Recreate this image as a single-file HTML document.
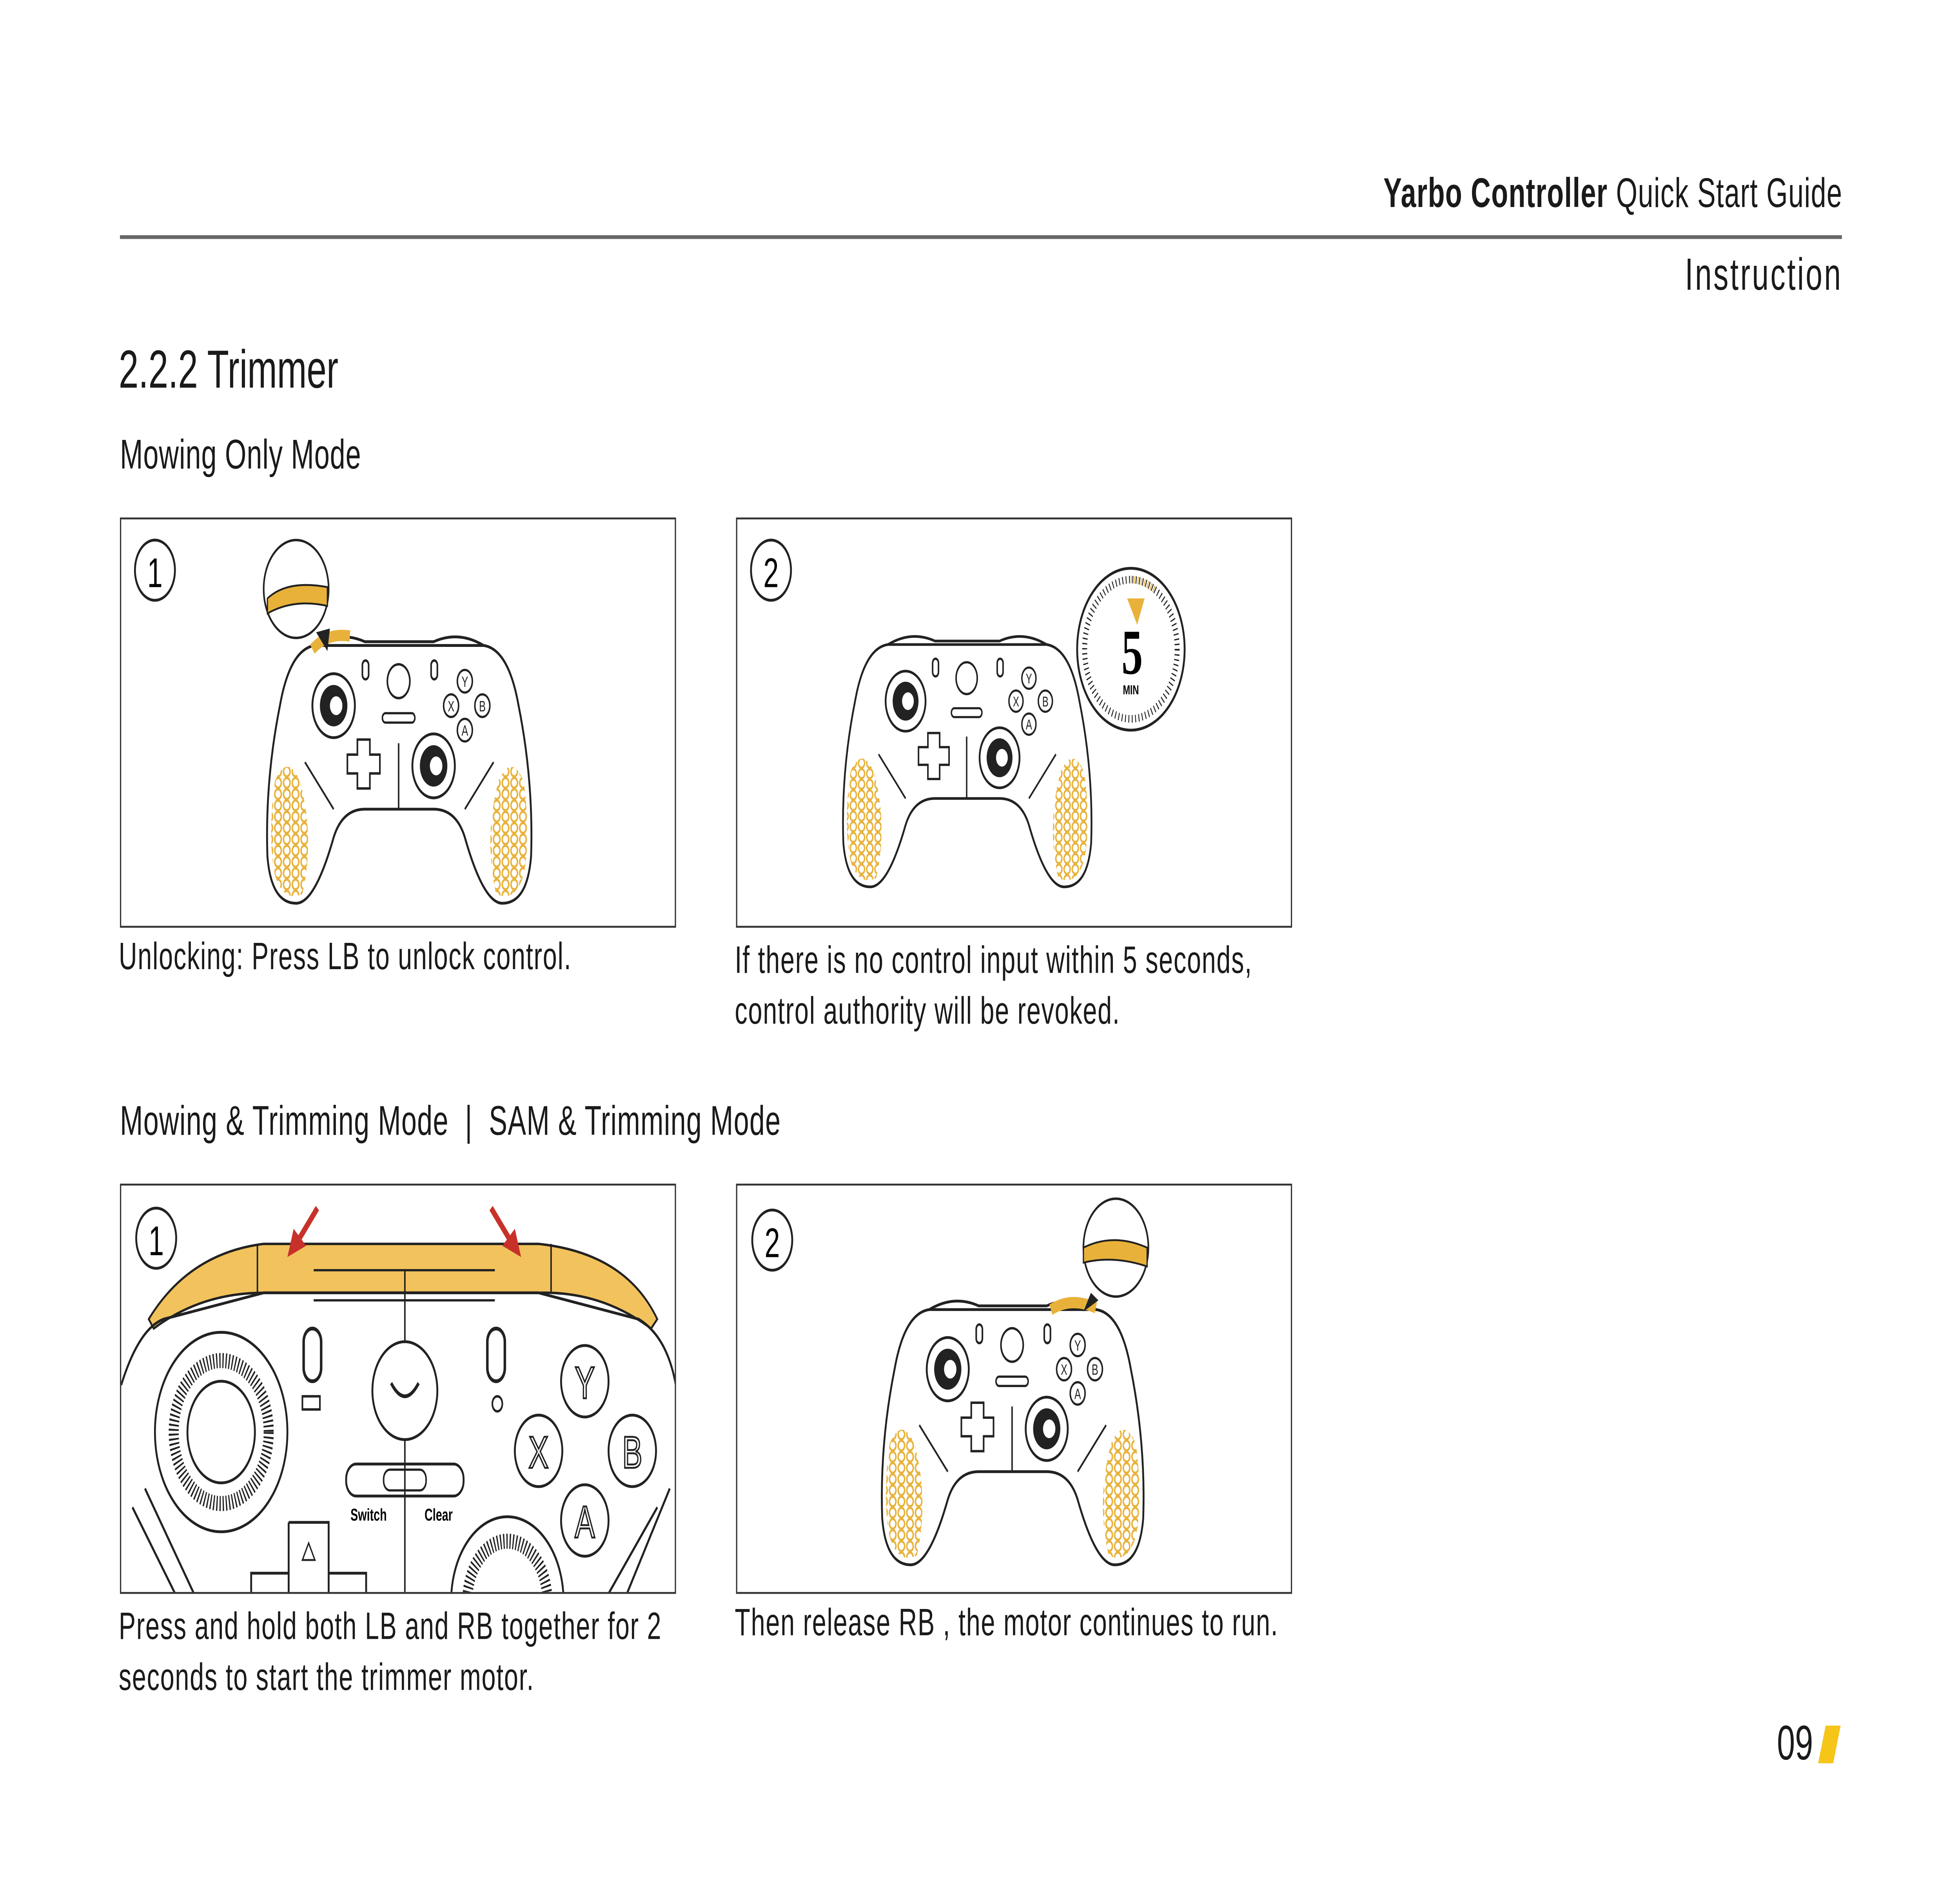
<!DOCTYPE html>
<html><head><meta charset="utf-8"><style>
html,body{margin:0;padding:0;background:#fff;}
body{width:100vw;height:100vh;overflow:hidden;position:relative;}
#s{position:absolute;left:0;top:0;width:1568.5px;height:1001.7px;overflow:hidden;transform:scale(4.8);transform-origin:0 0;font-family:"Liberation Sans",sans-serif;color:#1a1a1a;}
.t{position:absolute;white-space:nowrap;}
.cap{font-size:20.3px;letter-spacing:0.55px;}
.box{position:absolute;border:1.3px solid #333;box-sizing:border-box;background:#fff;overflow:hidden;}
svg{position:absolute;overflow:visible;}
</style></head><body><div id="s">
<div class="t" style="right:94px;top:90px;font-size:22px;letter-spacing:0.45px;"><b>Yarbo Controller</b> Quick Start Guide</div>
<div style="position:absolute;left:96px;top:125px;width:1378px;height:2px;background:#666;"></div>
<div class="t" style="right:94px;top:133px;font-size:24px;letter-spacing:1.4px;">Instruction</div>
<div class="t" style="left:95px;top:181px;font-size:28.5px;letter-spacing:0px;">2.2.2 Trimmer</div>
<div class="t" style="left:96px;top:229px;font-size:22px;letter-spacing:0.3px;">Mowing Only Mode</div>

<svg width="0" height="0" style="position:absolute;left:0;top:0">
<defs>
<pattern id="hc" width="7" height="6" patternUnits="userSpaceOnUse"><rect width="7" height="6" fill="#fff"/><circle cx="3.5" cy="3" r="2.6" fill="none" stroke="#e8b23a" stroke-width="1.2"/></pattern>
<g id="ctl">
<path d="M40,8 Q20,10 12,40 Q0,80 2,120 Q5,145 25,145 Q40,145 55,110 Q62,95 80,95 L135,95 Q153,95 160,110 Q175,145 190,145 Q210,145 213,120 Q215,80 203,40 Q195,10 175,8 Z" fill="#fff" stroke="#222" stroke-width="1.5"/>
<path d="M40,8 Q60,0 80,6 L135,6 Q155,0 175,8" fill="none" stroke="#222" stroke-width="1.5"/>
<path d="M8,80 Q18,65 28,80 Q40,110 30,140 Q15,145 8,130 Q2,110 8,80Z" fill="url(#hc)"/>
<path d="M207,80 Q197,65 187,80 Q175,110 185,140 Q200,145 207,130 Q213,110 207,80Z" fill="url(#hc)"/>
<path d="M32,70 L55,95 M183,70 L160,95 M107,60 L107,95" stroke="#222" stroke-width="1.2"/>
<circle cx="55" cy="40" r="17" fill="#fff" stroke="#222" stroke-width="1.5"/><circle cx="55" cy="40" r="11" fill="#222"/><circle cx="57" cy="40" r="5" fill="#fff"/>
<circle cx="135" cy="72" r="17" fill="#fff" stroke="#222" stroke-width="1.5"/><circle cx="135" cy="72" r="11" fill="#222"/><circle cx="137" cy="72" r="5" fill="#fff"/>
<path d="M74,58 h10 v8 h8 v10 h-8 v8 h-10 v-8 h-8 v-10 h8z" fill="#fff" stroke="#222" stroke-width="1.3"/>
<circle cx="107" cy="27" r="9" fill="#fff" stroke="#222" stroke-width="1.3"/>
<rect x="78" y="16" width="5" height="10" rx="2.5" fill="none" stroke="#222" stroke-width="1.3"/>
<rect x="133" y="16" width="5" height="10" rx="2.5" fill="none" stroke="#222" stroke-width="1.3"/>
<rect x="94" y="44" width="26" height="5" rx="2.5" fill="none" stroke="#222" stroke-width="1.2"/>
<g fill="#fff" stroke="#222" stroke-width="1.2">
<circle cx="160" cy="27" r="6"/><circle cx="149" cy="40" r="6"/><circle cx="174" cy="40" r="6"/><circle cx="160" cy="53" r="6"/></g>
<g font-size="8" font-family="Liberation Sans" text-anchor="middle" fill="#222"><text x="160" y="30">Y</text><text x="149" y="43">X</text><text x="174" y="43">B</text><text x="160" y="56">A</text></g>
</g>
</defs></svg>

<div class="box" style="left:96px;top:275px;width:445px;height:218px;"></div>
<div class="box" style="left:589px;top:275px;width:445px;height:218px;"></div>
<svg style="left:0;top:0" width="1100" height="500">
<circle cx="124" cy="303" r="16" fill="none" stroke="#222" stroke-width="1.5"/><text x="124" y="312" font-size="22" text-anchor="middle" font-family="Liberation Sans">1</text>
<use href="#ctl" x="212" y="335"/>
<path d="M250,345 Q262,336 280,338" stroke="#e8b23a" stroke-width="6" fill="none"/>
<circle cx="237" cy="313" r="26" fill="#fff" stroke="#222" stroke-width="1.3"/>
<path d="M214,318 Q230,308 262,312 L262,322 Q235,318 214,326Z" fill="#e8b23a" stroke="#222" stroke-width="1"/>
<path d="M253,336 L262,346 L264,334Z" fill="#222"/>
<circle cx="617" cy="303" r="16" fill="none" stroke="#222" stroke-width="1.5"/><text x="617" y="312" font-size="22" text-anchor="middle" font-family="Liberation Sans">2</text>
<use href="#ctl" transform="translate(673,335) scale(0.94)"/>
<circle cx="905" cy="345" r="43" fill="#fff" stroke="#222" stroke-width="1.5"/>
<circle cx="905" cy="345" r="37" fill="none" stroke="#222" stroke-width="4" stroke-dasharray="0.7 2"/>
<path d="M905,308 A37,37 0 0 1 925,314" stroke="#e8b23a" stroke-width="4" fill="none" stroke-dasharray="0.7 2"/>
<path d="M902,318 L916,318 L910,332Z" fill="#e8b23a"/>
<text x="906" y="358" font-size="34" font-weight="bold" text-anchor="middle" font-family="Liberation Serif">5</text>
<text x="905" y="369" font-size="7" font-weight="bold" text-anchor="middle" font-family="Liberation Sans">MIN</text>
</svg>

<div class="t cap" style="left:95px;top:498px;">Unlocking: Press LB to unlock control.</div>
<div class="t cap" style="left:588px;top:498px;line-height:27px;">If there is no control input within 5 seconds,<br>control authority will be revoked.</div>

<div class="t" style="left:96px;top:583px;font-size:22px;letter-spacing:0.4px;">Mowing &amp; Trimming Mode &nbsp;|&nbsp; SAM &amp; Trimming Mode</div>

<div class="box" style="left:96px;top:629px;width:445px;height:218px;">
<svg style="left:-96px;top:-629px" width="600" height="900">
<path d="M118,700 Q150,665 210,660 L430,660 Q500,665 525,700 L520,705 Q480,685 430,686 L210,686 Q160,686 122,705Z" fill="#f2c25c" stroke="#222" stroke-width="1.3"/>
<path d="M96,735 Q110,705 130,700 L210,686 L430,686 L510,700 Q535,710 541,740" fill="none" stroke="#222" stroke-width="1.5"/>
<path d="M205,660 L205,686 M440,660 L440,686 M250,674 L395,674 M250,690 L395,690" stroke="#222" stroke-width="1.2"/>
<line x1="323" y1="674" x2="323" y2="847" stroke="#222" stroke-width="1.2"/>
<circle cx="176" cy="760" r="53" fill="#fff" stroke="#222" stroke-width="1.5"/>
<circle cx="176" cy="760" r="38" fill="none" stroke="#222" stroke-width="8" stroke-dasharray="1 1.5"/>
<circle cx="176" cy="760" r="27" fill="#fff" stroke="#222" stroke-width="1.5"/>
<circle cx="405" cy="850" r="45" fill="#fff" stroke="#222" stroke-width="1.5"/>
<circle cx="405" cy="850" r="32" fill="none" stroke="#222" stroke-width="8" stroke-dasharray="1 1.5"/>
<circle cx="323" cy="738" r="26" fill="#fff" stroke="#222" stroke-width="1.5"/>
<path d="M312,734 Q323,748 334,734" fill="none" stroke="#222" stroke-width="2"/>
<rect x="242" y="705" width="14" height="28" rx="7" fill="none" stroke="#222" stroke-width="2"/>
<rect x="389" y="705" width="14" height="28" rx="7" fill="none" stroke="#222" stroke-width="2"/>
<rect x="241" y="741" width="14" height="7" fill="none" stroke="#222" stroke-width="1.3"/>
<circle cx="397" cy="745" r="4" fill="none" stroke="#222" stroke-width="1.3"/>
<rect x="276" y="777" width="94" height="17" rx="8" fill="none" stroke="#222" stroke-width="1.5"/>
<rect x="306" y="780" width="34" height="11" rx="5" fill="none" stroke="#222" stroke-width="1.2"/>
<text x="294" y="807" font-size="9" font-weight="bold" text-anchor="middle">Switch</text>
<text x="350" y="807" font-size="9" font-weight="bold" text-anchor="middle">Clear</text>
<g fill="#fff" stroke="#222" stroke-width="1.5"><circle cx="467" cy="733" r="19"/><circle cx="430" cy="770" r="19"/><circle cx="505" cy="770" r="19"/><circle cx="467" cy="807" r="19"/></g>
<g font-size="24" text-anchor="middle" fill="#fff" stroke="#222" stroke-width="1"><text x="467" y="742">Y</text><text x="430" y="779">X</text><text x="505" y="779">B</text><text x="467" y="816">A</text></g>
<path d="M230,808 h32 v40 M230,808 v40" fill="none" stroke="#222" stroke-width="1.5"/>
<path d="M200,847 v-12 h30 M262,835 h30 v12" fill="none" stroke="#222" stroke-width="1.5"/>
<path d="M241,828 l5,-9 l5,9z" fill="none" stroke="#222" stroke-width="1"/>
<path d="M105,800 L140,847 M115,790 L155,847 M535,790 L500,847 M525,800 L485,847" stroke="#222" stroke-width="1.5"/>
<path d="M253,641 L236,660" stroke="#c8312a" stroke-width="3.5"/><path d="M229,667 L234,652 L244,661Z" fill="#c8312a"/>
<path d="M392,641 L409,660" stroke="#c8312a" stroke-width="3.5"/><path d="M416,667 L401,661 L411,652Z" fill="#c8312a"/>
<circle cx="124" cy="657" r="16" fill="none" stroke="#222" stroke-width="1.5"/><text x="124" y="666" font-size="22" text-anchor="middle">1</text>
</svg>
</div>

<div class="box" style="left:589px;top:629px;width:445px;height:218px;">
<svg style="left:-589px;top:-629px" width="1100" height="900">
<circle cx="617" cy="658" r="16" fill="none" stroke="#222" stroke-width="1.5"/><text x="617" y="667" font-size="22" text-anchor="middle">2</text>
<use href="#ctl" transform="translate(703,687) scale(0.99)"/>
<path d="M840,695 Q856,688 876,694" stroke="#e8b23a" stroke-width="6" fill="none"/>
<circle cx="892" cy="662" r="26" fill="#fff" stroke="#222" stroke-width="1.3"/>
<path d="M866,662 Q890,654 917,662 L917,672 Q890,666 866,670Z" fill="#e8b23a" stroke="#222" stroke-width="1"/>
<path d="M872,686 L866,696 L878,690Z" fill="#222"/>
</svg>
</div>

<div class="t cap" style="left:95px;top:852px;line-height:27px;">Press and hold both LB and RB together for 2<br>seconds to start the trimmer motor.</div>
<div class="t cap" style="left:588px;top:852px;">Then release RB , the motor continues to run.</div>

<div class="t" style="left:1422px;top:911px;font-size:26px;">09</div>
<svg style="left:0;top:0" width="1500" height="950"><path d="M1461,917 L1473,917 L1467,937 L1455,937Z" fill="#f5c518"/></svg>
</div>
<script>
(function(){var w=window.innerWidth||document.documentElement.clientWidth||7529;var h=window.innerHeight||document.documentElement.clientHeight||4808;var sx=w/1568.5,sy=h/1001.7;if(!(sx>0))sx=4.8;if(!(sy>0))sy=4.8;document.getElementById('s').style.transform='scale('+sx+','+sy+')';})();
</script>
</body></html>
